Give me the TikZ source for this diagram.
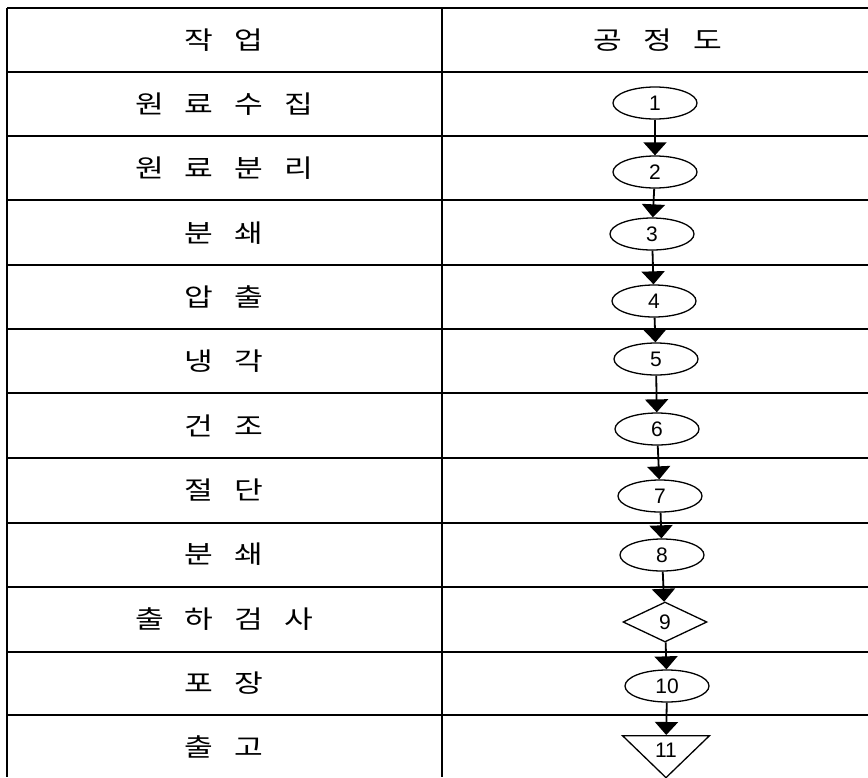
\documentclass[tikz,border=0pt]{standalone}
\usepackage{fontspec}
\setmainfont{Liberation Sans}
\newfontfamily\kor[FakeStretch=1.25,WordSpace=3]{Noto Sans CJK KR}
\usetikzlibrary{arrows.meta,shapes.geometric}
\tikzset{
  rule/.style={line width=2pt},
  jobtext/.style={font=\kor\fontsize{25}{25}\selectfont, inner sep=0pt},
  stepnode/.style={
    draw,
    ellipse,
    line width=1.3pt,
    minimum width=84pt,
    minimum height=32pt,
    inner sep=0pt,
    font=\fontsize{21}{21}\selectfont
  },
  checknode/.style={stepnode, diamond, minimum height=40pt},
  storenode/.style={
    stepnode,
    isosceles triangle,
    isosceles triangle stretches,
    shape border rotate=-90,
    minimum width=87pt,
    minimum height=42pt
  },
  flow/.style={-{Triangle[width=23pt,length=13pt]}, line width=1.8pt}
}
\begin{document}
\begin{tikzpicture}[x=1pt, y=-1pt]
  \useasboundingbox (0,0) rectangle (868,777);

  % table rules
  \foreach \y in {7.5,72,136,200,265,329,393,458,523,587,652,715}
    \draw[rule] (7,\y) -- (868,\y);
  \draw[rule] (7,7.5) -- (7,777);
  \draw[rule] (442,7.5) -- (442,777);

  % header
  \node[jobtext] (hjob) at (224,40) {작 업};
  \node[jobtext] (hchart) at (658,40) {공 정 도};

  % work steps
  \node[jobtext] (w1) at (224,104) {원 료 수 집};
  \node[jobtext] (w2) at (224,168) {원 료 분 리};
  \node[jobtext] (w3) at (224,233) {분 쇄};
  \node[jobtext] (w4) at (224,297) {압 출};
  \node[jobtext] (w5) at (224,361) {냉 각};
  \node[jobtext] (w6) at (224,426) {건 조};
  \node[jobtext] (w7) at (224,490) {절 단};
  \node[jobtext] (w8) at (224,554) {분 쇄};
  \node[jobtext] (w9) at (224,619) {출 하 검 사};
  \node[jobtext] (w10) at (224,683) {포 장};
  \node[jobtext] (w11) at (224,747) {출 고};

  % process chart
  \node[stepnode] (p1) at (655,103) {1};
  \node[stepnode] (p2) at (655,172) {2};
  \node[stepnode] (p3) at (652,234) {3};
  \node[stepnode] (p4) at (654,301) {4};
  \node[stepnode] (p5) at (656,359) {5};
  \node[stepnode] (p6) at (657,429) {6};
  \node[stepnode] (p7) at (660,496) {7};
  \node[stepnode] (p8) at (662,555) {8};
  \node[checknode] (p9) at (665,622) {9};
  \node[stepnode] (p10) at (667,686) {10};
  \node[storenode] (p11) at (666,750) {11};

  \foreach \a/\b in {p1/p2,p2/p3,p3/p4,p4/p5,p5/p6,p6/p7,p7/p8,p8/p9,p9/p10,p10/p11}
    \draw[flow] (\a) -- (\b);
\end{tikzpicture}
\end{document}
